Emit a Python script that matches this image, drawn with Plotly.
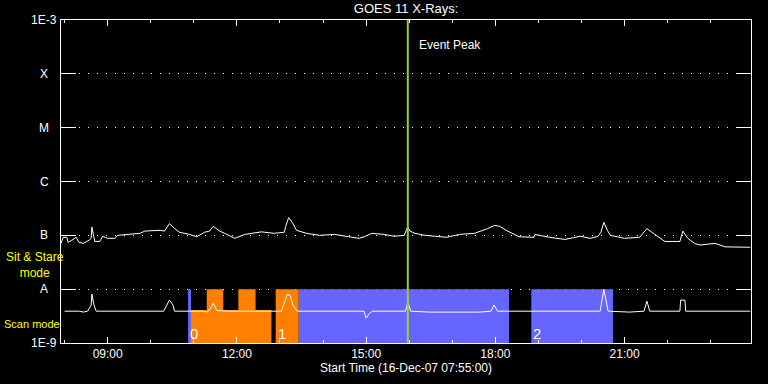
import numpy as np
import plotly.graph_objects as go

DAY = "2007-12-16 "

# GOES 1-8 A channel (upper curve), time HH:MM and flux W/m^2
long_times = ["07:55", "07:58", "08:03", "08:05", "08:10", "08:16", "08:20", "08:26", "08:34", "08:37",
              "08:38", "08:41", "08:42", "08:49", "08:53", "09:00", "09:10", "09:14", "09:31", "09:45",
              "09:52", "10:13", "10:19", "10:26", "10:33", "10:40", "10:54", "11:04", "11:15", "11:22",
              "11:27", "11:36", "11:43", "11:57", "12:11", "12:34", "12:52", "13:06", "13:08", "13:12",
              "13:17", "13:23", "13:37", "13:55", "14:16", "14:36", "14:50", "14:59", "15:08", "15:25",
              "15:39", "15:53", "15:58", "16:01", "16:08", "16:22", "16:43", "16:52", "17:10", "17:31",
              "17:49", "17:59", "18:06", "18:15", "18:33", "18:54", "18:55", "19:15", "19:37", "19:58",
              "20:12", "20:23", "20:27", "20:31", "20:36", "20:40", "21:00", "21:21", "21:31", "21:38",
              "21:45", "21:56", "22:17", "22:21", "22:28", "22:38", "22:45", "23:06", "23:20", "23:34",
              "23:55"]
long_flux = [7.1e-8, 9.2e-8, 9.2e-8, 7.4e-8, 8.1e-8, 9.2e-8, 7.4e-8, 7.1e-8, 8.1e-8, 8.8e-8,
             1.43e-7, 9.6e-8, 7.7e-8, 7.7e-8, 9.6e-8, 8.8e-8, 8.8e-8, 1.0e-7, 1.04e-7, 1.09e-7,
             1.2e-7, 1.24e-7, 1.2e-7, 1.65e-7, 1.35e-7, 1.14e-7, 1.04e-7, 9.4e-8, 1.14e-7, 1.2e-7,
             1.47e-7, 1.2e-7, 1.09e-7, 8.8e-8, 1.04e-7, 1.16e-7, 1.09e-7, 1.14e-7, 1.47e-7, 2.13e-7,
             1.74e-7, 1.24e-7, 1.09e-7, 1.0e-7, 1.04e-7, 9.6e-8, 8.8e-8, 9.6e-8, 1.09e-7, 1.04e-7,
             9.6e-8, 1.0e-7, 1.43e-7, 1.2e-7, 1.09e-7, 1.0e-7, 9.6e-8, 9.2e-8, 1.04e-7, 1.09e-7,
             1.33e-7, 1.53e-7, 1.47e-7, 1.24e-7, 9.4e-8, 9.2e-8, 1.04e-7, 9.2e-8, 8.4e-8, 9.6e-8,
             8.8e-8, 9.6e-8, 1.14e-7, 1.74e-7, 1.24e-7, 1.0e-7, 8.8e-8, 9.2e-8, 1.33e-7, 1.14e-7,
             1.0e-7, 7.7e-8, 7.7e-8, 1.2e-7, 8.8e-8, 7.0e-8, 6.6e-8, 7.1e-8, 6.1e-8, 6.0e-8,
             6.0e-8]

# GOES 0.5-4 A channel (lower curve)
short_times = ["08:00", "08:21", "08:26", "08:32", "08:37", "08:38", "08:41", "08:44", "10:18", "10:22",
               "10:26", "10:31", "10:33", "11:15", "11:18", "11:23", "11:27", "11:32", "11:50", "13:02",
               "13:06", "13:10", "13:14", "13:18", "13:24", "14:57", "15:00", "15:05", "15:09", "15:55",
               "15:58", "16:02", "16:28", "17:38", "17:54", "17:58", "18:03", "20:26", "20:31", "20:37",
               "21:07", "21:27", "21:31", "21:35", "22:17", "22:18", "22:24", "22:25", "23:55"]
short_flux = [3.9e-9, 3.9e-9, 3.75e-9, 3.9e-9, 5.06e-9, 8.1e-9, 5.06e-9, 3.9e-9, 3.9e-9, 5.06e-9,
              6.26e-9, 5.06e-9, 3.9e-9, 3.9e-9, 3.75e-9, 4.27e-9, 5.5e-9, 4.0e-9, 3.9e-9, 3.9e-9,
              5.5e-9, 8.0e-9, 7.7e-9, 5.06e-9, 3.9e-9, 3.9e-9, 2.9e-9, 3.6e-9, 3.9e-9, 3.9e-9,
              5.75e-9, 3.9e-9, 3.75e-9, 3.75e-9, 3.9e-9, 5.1e-9, 3.9e-9, 3.9e-9, 1.0e-8, 3.9e-9,
              3.75e-9, 3.9e-9, 6.0e-9, 3.9e-9, 3.9e-9, 6.26e-9, 6.26e-9, 3.9e-9, 3.9e-9]

# Observing mode blocks
sitstare_start = ["10:52", "13:26", "18:50"]
sitstare_end = ["10:56", "18:19", "20:44"]
scan_low_start = ["10:56", "12:54"]
scan_low_end = ["12:48", "13:26"]
scan_high_start = ["11:18", "12:02", "12:54"]
scan_high_end = ["11:41", "12:26", "13:26"]
band_bottom = 1e-9
band_split = 4.1e-9
band_top = 1e-8

seq_labels = ["0", "1", "2"]
seq_times = ["10:52", "12:54", "18:50"]

peak_time = "15:58"
y_levels = [1e-9, 1e-8, 1e-7, 1e-6, 1e-5, 1e-4, 1e-3]
y_labels = ["1E-9", "A", "B", "C", "M", "X", "1E-3"]
class_levels = [1e-8, 1e-7, 1e-6, 1e-5, 1e-4]

BLUE = "#6666ff"
ORANGE = "#ff8000"
GREEN = "#9acd32"


def t(hm):
    return DAY + hm


def rects(starts, ends, y0, y1):
    xs, ys = [], []
    for s, e in zip(starts, ends):
        xs += [t(s), t(e), t(e), t(s), t(s), None]
        ys += [y0, y0, y1, y1, y0, None]
    return xs, ys


fig = go.Figure()

for starts, ends, y0, y1, col in [
    (sitstare_start, sitstare_end, band_bottom, band_top, BLUE),
    (scan_low_start, scan_low_end, band_bottom, band_split, ORANGE),
    (scan_high_start, scan_high_end, band_split, band_top, ORANGE),
]:
    xs, ys = rects(starts, ends, y0, y1)
    fig.add_trace(go.Scatter(x=xs, y=ys, mode="lines", fill="toself", fillcolor=col,
                             line=dict(width=0, color=col), hoverinfo="skip"))

fig.add_trace(go.Scatter(x=[t(v) for v in long_times], y=long_flux, mode="lines",
                         line=dict(color="white", width=1)))
fig.add_trace(go.Scatter(x=[t(v) for v in short_times], y=short_flux, mode="lines",
                         line=dict(color="white", width=1)))
fig.add_trace(go.Scatter(x=[t(peak_time), t(peak_time)], y=[1e-9, 1e-3], mode="lines",
                         line=dict(color=GREEN, width=2)))

annotations = []
for v, lab in zip(y_levels, y_labels):
    annotations.append(dict(x=-0.0246, xref="paper", y=np.log10(v), yref="y", text=lab,
                            showarrow=False, xanchor="center", yanchor="middle",
                            font=dict(color="white", size=12)))
annotations.append(dict(x=-0.038, xref="paper", y=np.log10(2.85e-8), yref="y",
                        text="Sit & Stare<br>mode", showarrow=False, xanchor="center",
                        yanchor="middle", align="center",
                        font=dict(color="#ffff00", size=12)))
annotations.append(dict(x=-0.0855, xref="paper", y=np.log10(2.25e-9), yref="y",
                        text="Scan mode", showarrow=False, xanchor="left",
                        yanchor="middle", font=dict(color="#ffff00", size=11)))
for lab, tm in zip(seq_labels, seq_times):
    annotations.append(dict(x=t(tm), y=np.log10(1.53e-9), xref="x", yref="y", text=lab,
                            showarrow=False, xanchor="left", yanchor="middle", xshift=0,
                            font=dict(color="white", size=15)))
annotations.append(dict(x=t(peak_time), y=np.log10(3.45e-4), xref="x", yref="y",
                        text="Event Peak", showarrow=False, xanchor="left", yanchor="middle",
                        xshift=9, font=dict(color="white", size=12)))

fig.update_layout(
    width=768, height=384,
    paper_bgcolor="black", plot_bgcolor="black",
    margin=dict(l=61, r=17, t=20, b=41),
    showlegend=False,
    font=dict(family="Liberation Sans", size=12, color="white"),
    title=dict(text="GOES 11 X-Rays:", x=0.5288, xanchor="center", y=0.979,
               yanchor="middle", yref="container", font=dict(size=13, color="white")),
    annotations=annotations,
    xaxis=dict(
        type="date", range=[t("07:55"), t("23:56")],
        showgrid=False, zeroline=False,
        showline=True, linecolor="white", linewidth=1, mirror="allticks",
        ticks="inside", ticklen=6, tickcolor="white", tickwidth=1,
        tick0=t("09:00"), dtick=3 * 3600000, tickformat="%H:%M",
        tickfont=dict(size=12, color="white"),
        minor=dict(dtick=3600000, ticks="inside", ticklen=3, tickcolor="white", showgrid=False),
        title=dict(text="Start Time (16-Dec-07 07:55:00)", standoff=3,
                   font=dict(size=12, color="white")),
    ),
    yaxis=dict(
        type="log", range=[-9, -3],
        showline=True, linecolor="white", linewidth=1, mirror="allticks",
        ticks="inside", ticklen=15, tickcolor="white", tickwidth=1,
        tickvals=class_levels, showticklabels=False,
        showgrid=True, gridcolor="white", gridwidth=1, griddash="1px,8px",
        zeroline=False,
    ),
)

fig.write_html("out.html", config={"displayModeBar": False},
               post_script="document.body.style.margin='0';document.body.style.background='black';")
